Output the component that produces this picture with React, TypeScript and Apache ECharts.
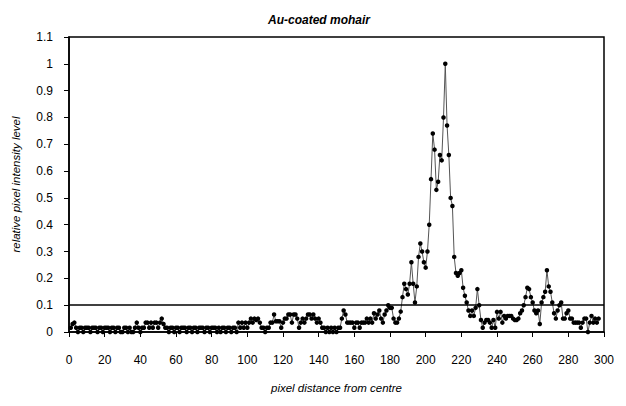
import React, { useEffect, useRef } from "react";
import * as echarts from "echarts";

const titleText = "Au-coated mohair";
const xAxisName = "pixel distance from centre";
const yAxisName = "relative pixel intensity level";
const thresholdLevel = 0.1;
const firstDistance = 1;

const intensity1to50 = [
  0.016, 0.03, 0.035, 0.016, 0, 0.016, 0.016, 0, 0.016, 0.016,
  0.016, 0, 0.016, 0.016, 0.016, 0, 0.016, 0.016, 0, 0.016,
  0.016, 0.016, 0, 0.016, 0.016, 0, 0.016, 0.016, 0, 0,
  0.016, 0.016, 0, 0.016, 0, 0, 0.016, 0.035, 0.016, 0,
  0.016, 0.016, 0.035, 0.035, 0.016, 0.035, 0.016, 0.035, 0.035, 0.016,
];
const intensity51to100 = [
  0.035, 0.05, 0.03, 0.016, 0.016, 0, 0.016, 0.016, 0, 0.016,
  0.016, 0, 0.016, 0.016, 0.016, 0, 0.016, 0.016, 0, 0.016,
  0.016, 0, 0.016, 0.016, 0.016, 0, 0.016, 0.016, 0, 0.016,
  0.016, 0.016, 0, 0.016, 0, 0.016, 0.016, 0, 0.016, 0.016,
  0, 0.016, 0.016, 0, 0.035, 0.016, 0.035, 0.016, 0.035, 0.016,
];
const intensity101to150 = [
  0.035, 0.05, 0.035, 0.05, 0.045, 0.05, 0.035, 0.016, 0.016, 0,
  0.016, 0.016, 0.035, 0.035, 0.065, 0.04, 0.04, 0.04, 0.016, 0.035,
  0.05, 0.05, 0.065, 0.065, 0.035, 0.065, 0.065, 0.05, 0.016, 0.035,
  0.05, 0.035, 0.05, 0.065, 0.065, 0.05, 0.065, 0.05, 0.035, 0.05,
  0.035, 0.016, 0.016, 0, 0.016, 0, 0.016, 0, 0.016, 0,
];
const intensity151to200 = [
  0.016, 0.016, 0.05, 0.08, 0.065, 0.035, 0.035, 0.035, 0.035, 0.016,
  0.035, 0.035, 0.016, 0.035, 0.035, 0.035, 0.05, 0.035, 0.05, 0.035,
  0.07, 0.05, 0.065, 0.08, 0.05, 0.035, 0.065, 0.08, 0.1, 0.09,
  0.09, 0.05, 0.035, 0.035, 0.05, 0.076, 0.13, 0.18, 0.16, 0.14,
  0.18, 0.26, 0.18, 0.11, 0.17, 0.28, 0.33, 0.3, 0.26, 0.24,
];
const intensity201to250 = [
  0.3, 0.4, 0.57, 0.74, 0.68, 0.53, 0.56, 0.66, 0.64, 0.8,
  1.0, 0.77, 0.66, 0.5, 0.47, 0.28, 0.22, 0.21, 0.22, 0.23,
  0.165, 0.135, 0.11, 0.08, 0.06, 0.08, 0.06, 0.09, 0.16, 0.1,
  0.045, 0.016, 0.035, 0.045, 0.045, 0.035, 0.016, 0.045, 0.016, 0.075,
  0.05, 0.075, 0.035, 0.06, 0.05, 0.06, 0.06, 0.06, 0.05, 0.045,
];
const intensity251to297 = [
  0.045, 0.05, 0.07, 0.08, 0.1, 0.13, 0.165, 0.16, 0.13, 0.11,
  0.08, 0.07, 0.08, 0.03, 0.11, 0.13, 0.15, 0.23, 0.17, 0.15,
  0.11, 0.07, 0.05, 0.08, 0.1, 0.11, 0.05, 0.05, 0.07, 0.08,
  0.05, 0.05, 0.035, 0.035, 0.035, 0.035, 0.016, 0.035, 0.05, 0.05,
  0, 0.035, 0.06, 0.035, 0.05, 0.035, 0.05,
];

const intensity = [
  ...intensity1to50,
  ...intensity51to100,
  ...intensity101to150,
  ...intensity151to200,
  ...intensity201to250,
  ...intensity251to297,
];

const FONT = "'Liberation Sans', Arial, sans-serif";

export default function App() {
  const ref = useRef<HTMLDivElement>(null);
  useEffect(() => {
    document.body.style.margin = "0";
    if (!ref.current) return;
    const chart = echarts.init(ref.current, null, { renderer: "svg" });
    const points = intensity.map((v, i) => [firstDistance + i, v]);
    chart.setOption({
      animation: false,
      backgroundColor: "#ffffff",
      title: {
        text: titleText,
        left: 314,
        textAlign: "center",
        top: 9,
        textStyle: {
          fontFamily: FONT,
          fontSize: 12,
          fontWeight: "bold",
          fontStyle: "italic",
          color: "#000",
        },
      },
      grid: {
        left: 69,
        right: 22,
        top: 37,
        bottom: 74,
        show: true,
        borderColor: "#000",
        borderWidth: 1.5,
        backgroundColor: "transparent",
      },
      xAxis: {
        type: "value",
        min: 0,
        max: 300,
        interval: 20,
        name: xAxisName,
        nameLocation: "middle",
        nameGap: 50,
        nameTextStyle: { fontFamily: FONT, fontSize: 11.5, fontStyle: "italic", color: "#000" },
        axisLine: { show: true, lineStyle: { color: "#000", width: 1.5 } },
        axisTick: { show: true, inside: false, length: 5, lineStyle: { color: "#000" } },
        axisLabel: { margin: 22, fontFamily: FONT, fontSize: 12, color: "#000" },
        splitLine: { show: false },
      },
      yAxis: {
        type: "value",
        min: 0,
        max: 1.1,
        interval: 0.1,
        name: yAxisName,
        nameLocation: "middle",
        nameGap: 47,
        nameTextStyle: { fontFamily: FONT, fontSize: 11.5, fontStyle: "italic", color: "#000" },
        axisLine: { show: true, lineStyle: { color: "#000", width: 1.5 } },
        axisTick: { show: true, inside: false, length: 5, lineStyle: { color: "#000" } },
        axisLabel: {
          margin: 16,
          fontFamily: FONT,
          fontSize: 12,
          color: "#000",
          formatter: (v: number) => String(Math.round(v * 10) / 10),
        },
        splitLine: { show: false },
      },
      series: [
        {
          type: "line",
          data: points,
          symbol: "circle",
          symbolSize: 4.5,
          showSymbol: true,
          itemStyle: { color: "#000" },
          lineStyle: { color: "#555", width: 1 },
          markLine: {
            silent: true,
            symbol: ["none", "none"],
            label: { show: false },
            lineStyle: { color: "#000", width: 1.5, type: "solid" },
            data: [{ yAxis: thresholdLevel }],
          },
        },
      ],
    });
    return () => chart.dispose();
  }, []);
  return <div ref={ref} style={{ width: 626, height: 406 }} />;
}
